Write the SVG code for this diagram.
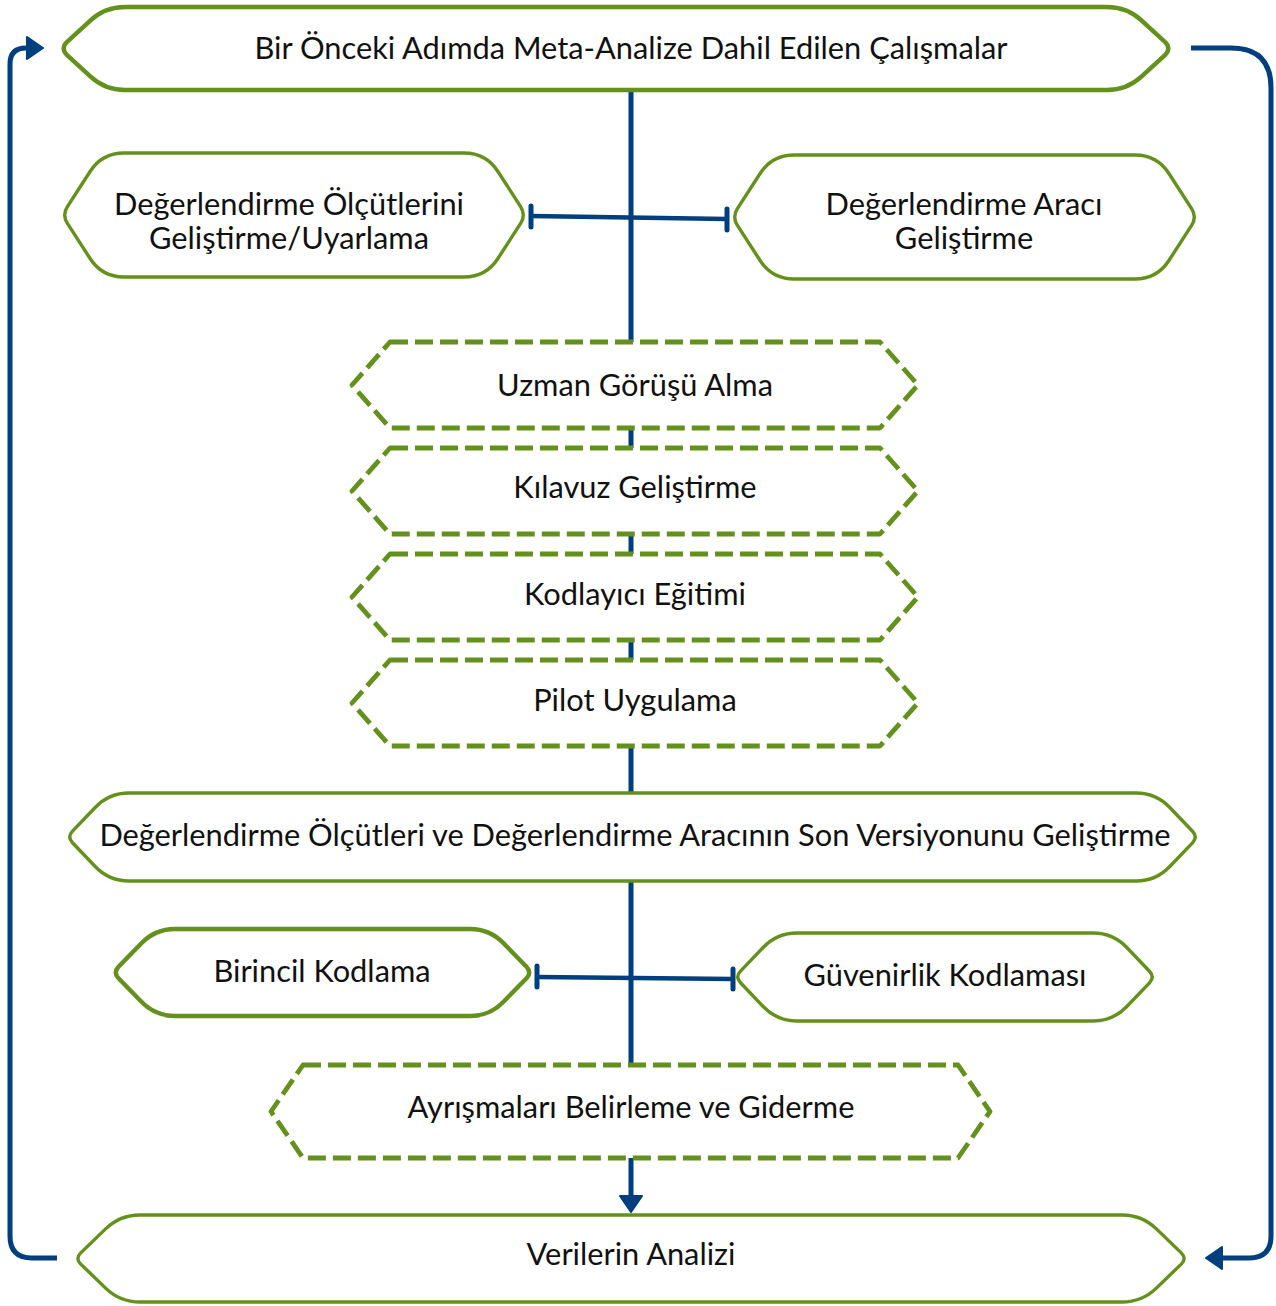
<svg xmlns="http://www.w3.org/2000/svg" width="1276" height="1306" viewBox="0 0 1276 1306">
<defs>
<style>
.node{fill:#fff;stroke:#64901c;stroke-width:3.4;stroke-linejoin:round}
.thick{stroke-width:4.4}
.dash{fill:#fff;stroke:#64901c;stroke-width:4.8;stroke-dasharray:18 7;stroke-linejoin:round}
.conn{fill:none;stroke:#003f7f;stroke-width:5}
.bar{fill:none;stroke:#003f7f;stroke-width:5;stroke-linecap:round}
text{font-family:Lato,"Liberation Sans",sans-serif;font-size:30.8px;fill:#111;text-anchor:middle}
</style>
<marker id="arr" markerUnits="userSpaceOnUse" viewBox="0 0 18 24" markerWidth="18" markerHeight="24" refX="1" refY="12" orient="auto">
<path d="M1,1 L17,12 L1,23 Z" fill="#003f7f" stroke="#003f7f" stroke-width="2" stroke-linejoin="round"/>
</marker>
</defs>
<g id="connectors">
<path class="conn" d="M631,92 V1196" marker-end="url(#arr)"/>
<path class="conn" d="M57,1258 H32 Q10,1258 10,1236 V64 Q10,48 26,48 H27" marker-end="url(#arr)"/>
<path class="conn" d="M1191,48 H1231 Q1271,48 1271,88 V1236 Q1271,1258 1249,1258 H1222" marker-end="url(#arr)"/>
<path class="conn" style="stroke-width:4.5" d="M531,216 L727,219"/>
<path class="bar" d="M531,206 V227 M727,209 V230"/>
<path class="conn" style="stroke-width:4.5" d="M537,977 L733,979"/>
<path class="bar" d="M537,966 V987 M733,969 V989"/>
</g>
<g id="n1">
<path class="node thick" d="M125,7 H1107 Q1127,7 1141.7,20.6 L1164.65,41.72 Q1172,48.5 1164.65,55.28 L1141.7,76.4 Q1127,90 1107,90 H125 Q105,90 90.3,76.4 L67.35,55.28 Q60,48.5 67.35,41.72 L90.3,20.6 Q105,7 125,7 Z"/>
<text x="631" y="59">Bir Önceki Adımda Meta-Analize Dahil Edilen Çalışmalar</text>
</g>
<g id="n2">
<path class="node" d="M124,153 H464 Q486,153 497.9,171.5 L520.6,206.6 Q526,215 520.6,223.4 L497.9,258.5 Q486,277 464,277 H124 Q102,277 90.1,258.5 L67.4,223.4 Q62,215 67.4,206.6 L90.1,171.5 Q102,153 124,153 Z"/>
<text x="289" y="215">Değerlendirme Ölçütlerini</text>
<text x="289" y="249">Geliştirme/Uyarlama</text>
</g>
<g id="n3">
<path class="node" d="M794,155 H1135 Q1157,155 1168.9,173.5 L1191.6,208.6 Q1197,217 1191.6,225.4 L1168.9,260.5 Q1157,279 1135,279 H794 Q772,279 760.1,260.5 L737.4,225.4 Q732,217 737.4,208.6 L760.1,173.5 Q772,155 794,155 Z"/>
<text x="964" y="215">Değerlendirme Aracı</text>
<text x="964" y="249">Geliştirme</text>
</g>
<g id="n4">
<polygon class="dash" points="390,342 880,342 918,385 880,428 390,428 352,385"/>
<text x="635" y="396">Uzman Görüşü Alma</text>
</g>
<g id="n5">
<polygon class="dash" points="390,448 880,448 918,491 880,534 390,534 352,491"/>
<text x="635" y="498">Kılavuz Geliştirme</text>
</g>
<g id="n6">
<polygon class="dash" points="390,554 880,554 918,597 880,640 390,640 352,597"/>
<text x="635" y="605">Kodlayıcı Eğitimi</text>
</g>
<g id="n7">
<polygon class="dash" points="390,660 880,660 918,703 880,746 390,746 352,703"/>
<text x="635" y="711">Pilot Uygulama</text>
</g>
<g id="n8">
<path class="node" d="M129,793 H1136 Q1156,793 1169.8,807.5 L1192.5,831.2 Q1198,837 1192.5,842.8 L1169.8,866.5 Q1156,881 1136,881 H129 Q109,881 95.2,866.5 L72.5,842.8 Q67,837 72.5,831.2 L95.2,807.5 Q109,793 129,793 Z"/>
<text x="635" y="846">Değerlendirme Ölçütleri ve Değerlendirme Aracının Son Versiyonunu Geliştirme</text>
</g>
<g id="n9">
<path class="node thick" d="M175,929 H470 Q490,929 503.8,943.5 L526.5,966.7 Q532,972.5 526.5,978.3 L503.8,1001.5 Q490,1016 470,1016 H175 Q155,1016 141.2,1001.5 L118.5,978.3 Q113,972.5 118.5,966.7 L141.2,943.5 Q155,929 175,929 Z"/>
<text x="322" y="982">Birincil Kodlama</text>
</g>
<g id="n10">
<path class="node" d="M797,933 H1093 Q1113,933 1126.8,947.5 L1149.5,971.2 Q1155,977 1149.5,982.8 L1126.8,1006.5 Q1113,1021 1093,1021 H797 Q777,1021 763.2,1006.5 L740.5,982.8 Q735,977 740.5,971.2 L763.2,947.5 Q777,933 797,933 Z"/>
<text x="945" y="986">Güvenirlik Kodlaması</text>
</g>
<g id="n11">
<polygon class="dash" points="303,1065 958,1065 990,1111.5 958,1158 303,1158 271,1111.5"/>
<text x="631" y="1118">Ayrışmaları Belirleme ve Giderme</text>
</g>
<g id="n12">
<path class="node" d="M140,1215 H1122 Q1142,1215 1156.4,1228.9 L1181.25,1252.9 Q1187,1258.5 1181.25,1264.1 L1156.4,1288.1 Q1142,1302 1122,1302 H140 Q120,1302 105.6,1288.1 L80.75,1264.1 Q75,1258.5 80.75,1252.9 L105.6,1228.9 Q120,1215 140,1215 Z"/>
<text x="631" y="1265">Verilerin Analizi</text>
</g>
</svg>
